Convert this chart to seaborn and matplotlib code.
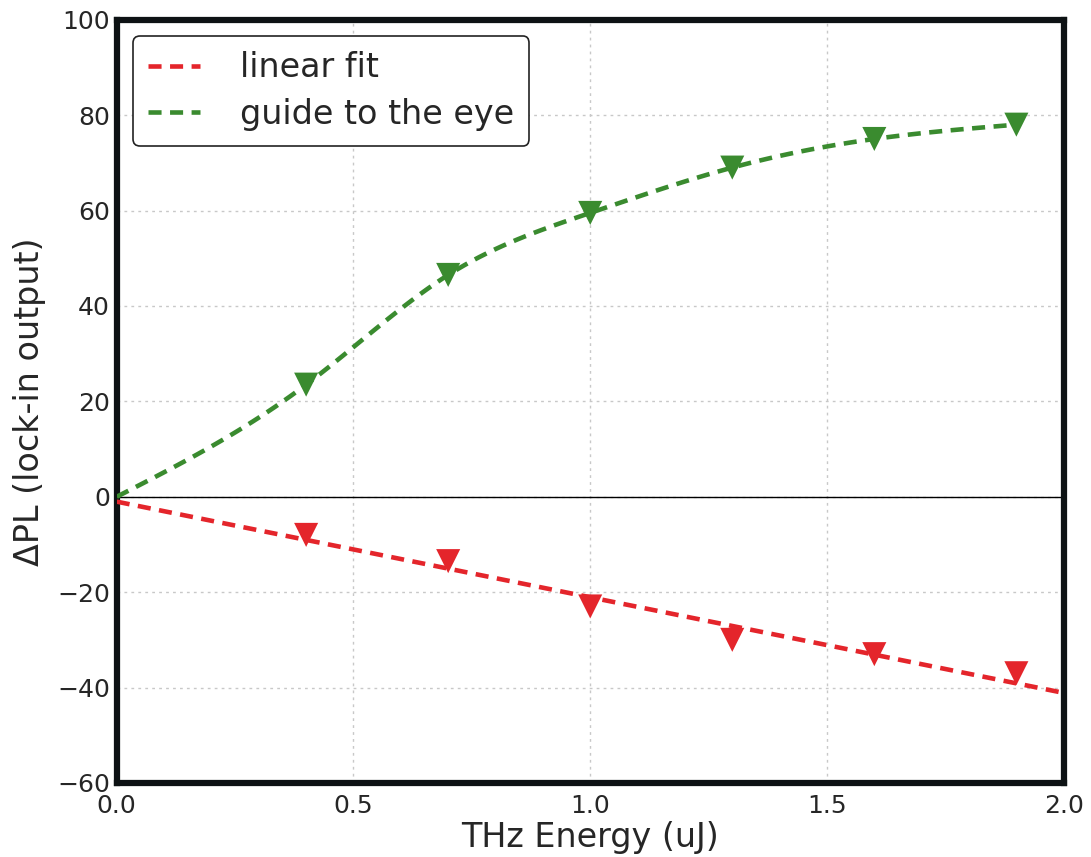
import numpy as np
import pandas as pd
import matplotlib
matplotlib.use("Agg")
import matplotlib.pyplot as plt
import seaborn as sns

# Measured signal vs THz pulse energy
energy = [0.4, 0.7, 1.0, 1.3, 1.6, 1.9]
dpl_positive = [23.5, 46.5, 59.5, 69.0, 75.0, 78.0]
dpl_negative = [-8.0, -13.5, -23.0, -30.0, -33.0, -37.0]

x_ticks = [0.0, 0.5, 1.0, 1.5, 2.0]
y_ticks = [-60, -40, -20, 0, 20, 40, 60, 80, 100]

RED = "#e4252b"
GREEN = "#3a8b2f"


def natural_spline(xk, yk, xs):
    """Natural cubic spline through the knots (xk, yk), evaluated at xs."""
    xk = np.asarray(xk, float)
    yk = np.asarray(yk, float)
    n = len(xk)
    h = np.diff(xk)
    A = np.zeros((n, n))
    b = np.zeros(n)
    A[0, 0] = A[-1, -1] = 1.0
    for i in range(1, n - 1):
        A[i, i - 1] = h[i - 1]
        A[i, i] = 2 * (h[i - 1] + h[i])
        A[i, i + 1] = h[i]
        b[i] = 6 * ((yk[i + 1] - yk[i]) / h[i] - (yk[i] - yk[i - 1]) / h[i - 1])
    m = np.linalg.solve(A, b)
    idx = np.clip(np.searchsorted(xk, xs) - 1, 0, n - 2)
    x0, x1 = xk[idx], xk[idx + 1]
    hh = x1 - x0
    t0, t1 = x1 - xs, xs - x0
    return (m[idx] * t0 ** 3 / (6 * hh) + m[idx + 1] * t1 ** 3 / (6 * hh)
            + (yk[idx] / hh - m[idx] * hh / 6) * t0
            + (yk[idx + 1] / hh - m[idx + 1] * hh / 6) * t1)


sns.set_style("white")
plt.rcParams["font.family"] = ["DejaVu Sans"]

fig, ax = plt.subplots(figsize=(10.91, 8.57), dpi=100)
fig.subplots_adjust(left=0.107, right=0.975, top=0.977, bottom=0.0864)

# Linear fit to the negative branch
slope, intercept = np.polyfit(energy, dpl_negative, 1)
fit_x = np.linspace(0.0, 2.0, 50)
fit_df = pd.DataFrame({"x": fit_x, "y": slope * fit_x + intercept})

# Smooth guide through the origin and the positive branch
gx = [0.0] + energy
gy = [0.0] + dpl_positive
guide_x = np.linspace(0.0, 1.9, 120)
guide_df = pd.DataFrame({"x": guide_x, "y": natural_spline(gx, gy, guide_x)})

ax.axhline(0, color="black", lw=1.0, zorder=1)

dash = (0, (2.85, 1.85))
sns.lineplot(data=fit_df, x="x", y="y", ax=ax, color=RED, lw=3.3,
             linestyle=dash, label="linear fit", zorder=3)
sns.lineplot(data=guide_df, x="x", y="y", ax=ax, color=GREEN, lw=3.3,
             linestyle=dash, label="guide to the eye", zorder=3)

pts = pd.DataFrame({"x": energy, "pos": dpl_positive, "neg": dpl_negative})
sns.scatterplot(data=pts, x="x", y="neg", ax=ax, marker="v", s=300,
                color=RED, edgecolor="none", zorder=4, legend=False)
sns.scatterplot(data=pts, x="x", y="pos", ax=ax, marker="v", s=300,
                color=GREEN, edgecolor="none", zorder=4, legend=False)

ax.set_xlim(0, 2.0)
ax.set_ylim(-60, 100)
ax.set_xticks(x_ticks)
ax.set_yticks(y_ticks)
ax.grid(True, color="#c8c8c8", linestyle=(0, (2, 3)), lw=1.0)
ax.tick_params(labelsize=18, length=0)
ax.tick_params(axis="y", pad=5)
ax.tick_params(axis="x", pad=8)

for s in ax.spines.values():
    s.set_linewidth(4.5)
    s.set_color("#0d1214")

ax.set_xlabel("THz Energy (uJ)", fontsize=24, labelpad=2)
ax.set_ylabel("\u0394PL (lock-in output)", fontsize=24, labelpad=8)

leg = ax.legend(loc="upper left", fontsize=24, frameon=True, handlelength=1.55,
                borderpad=0.45, labelspacing=0.4, handletextpad=1.2,
                fancybox=True, borderaxespad=0.5)
leg.get_frame().set_edgecolor("#222222")
leg.get_frame().set_linewidth(1.2)
leg.get_frame().set_alpha(1.0)

fig.savefig("out.png", dpi=100)
